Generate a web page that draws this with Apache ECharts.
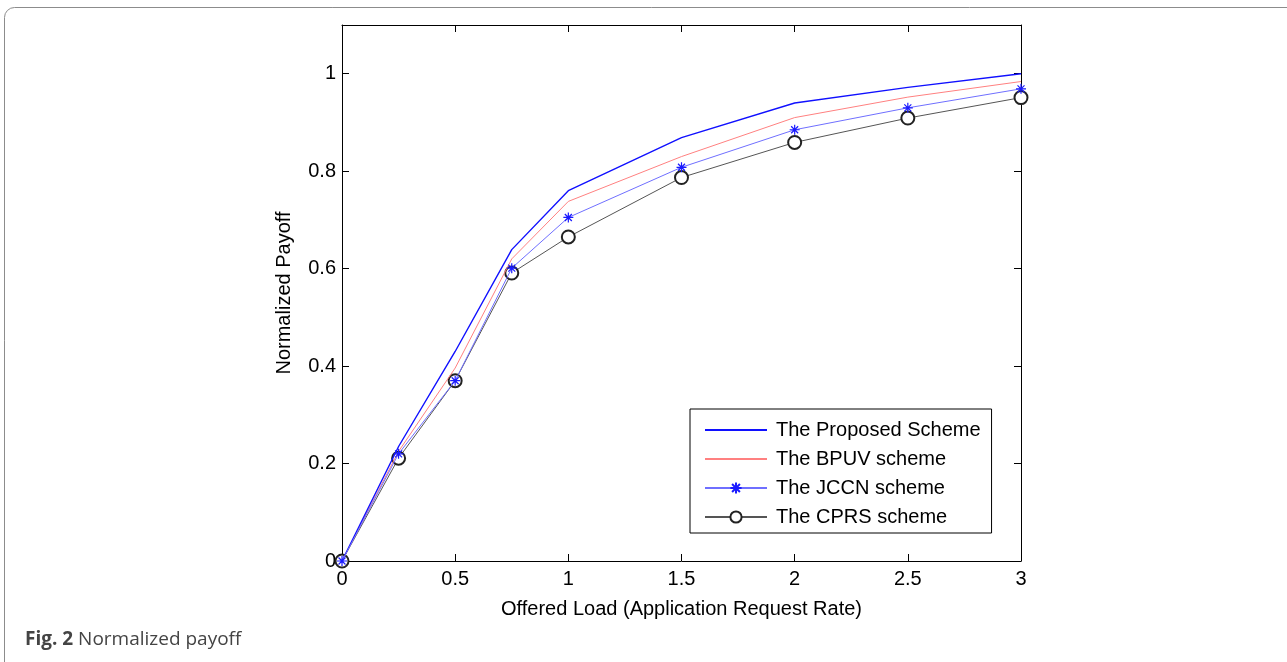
<!DOCTYPE html>
<html>
<head>
<meta charset="utf-8">
<title>Normalized payoff</title>
<script src="https://cdn.jsdelivr.net/npm/echarts@6/dist/echarts.min.js"></script>
<style>
body{margin:0;background:#fff;}
#chart{width:1287px;height:662px;}
</style>
</head>
<body>
<div id="chart"></div>
<script>
// offered load (x axis)
var loads = [0, 0.25, 0.5, 0.75, 1, 1.5, 2, 2.5, 3];
// normalized payoff per scheme
var proposed = [0, 0.235, 0.43, 0.639, 0.760, 0.869, 0.940, 0.972, 1.0];
var bpuv     = [0, 0.225, 0.396, 0.620, 0.738, 0.830, 0.910, 0.952, 0.984];
var jccn     = [0, 0.220, 0.370, 0.601, 0.705, 0.808, 0.885, 0.930, 0.969];
var cprs     = [0, 0.211, 0.370, 0.591, 0.665, 0.787, 0.859, 0.909, 0.951];
var names = ['The Proposed Scheme', 'The BPUV scheme', 'The JCCN scheme', 'The CPRS scheme'];

function pairs(ys){
	var out = [];
	for (var i = 0; i < loads.length; i++) out.push([loads[i], ys[i]]);
	return out;
}

var star = 'path://M0,-1L0,1M-1,0L1,0M-0.7,-0.7L0.7,0.7M-0.7,0.7L0.7,-0.7';
var font = 'Liberation Sans';
var tick = {inside: true, length: 7, lineStyle: {color: '#000', width: 1}};
var line = {show: true, onZero: false, lineStyle: {color: '#000', width: 1}};

var chart = echarts.init(document.getElementById('chart'));
var option = {
	animation: false,
	backgroundColor: '#fff',
	textStyle: {fontFamily: font},
	grid: {left: 342, right: 266, top: 25, bottom: 101},
	graphic: [{
		type: 'rect',
		shape: {x: 4.5, y: 7.5, width: 1320, height: 670, r: 10},
		style: {fill: 'none', stroke: '#8c8c8c', lineWidth: 1},
		silent: true
	}, {
		type: 'text',
		left: 25, top: 630,
		style: {
			text: '{b|Fig. 2} Normalized payoff',
			fill: '#444',
			font: '19px "Open Sans"',
			rich: {b: {fontWeight: 'bold', fontSize: 19, fontFamily: 'Open Sans', fill: '#444'}}
		}
	}],
	xAxis: [{
		type: 'value', min: 0, max: 3, interval: 0.5,
		name: 'Offered Load (Application Request Rate)',
		nameLocation: 'middle', nameGap: 38,
		nameTextStyle: {fontSize: 20, color: '#000', fontFamily: font},
		axisLine: line,
		axisTick: tick,
		axisLabel: {fontSize: 20, color: '#000', margin: 8, fontFamily: font},
		splitLine: {show: false}
	}, {
		type: 'value', position: 'top', min: 0, max: 3, interval: 0.5,
		axisLine: line,
		axisTick: tick,
		axisLabel: {show: false},
		splitLine: {show: false}
	}],
	yAxis: [{
		type: 'value', min: 0, max: 1.1, interval: 0.2,
		name: 'Normalized Payoff',
		nameLocation: 'middle', nameGap: 48,
		nameTextStyle: {fontSize: 20, color: '#000', fontFamily: font},
		axisLine: line,
		axisTick: tick,
		axisLabel: {
			fontSize: 20, color: '#000', margin: 6, fontFamily: font,
			formatter: function(v){ return v > 1.05 ? '' : String(Math.round(v * 10) / 10); }
		},
		splitLine: {show: false}
	}, {
		type: 'value', position: 'right', min: 0, max: 1.1, interval: 0.2,
		axisLine: line,
		axisTick: tick,
		axisLabel: {show: false},
		splitLine: {show: false}
	}],
	legend: {
		orient: 'vertical',
		left: 690, top: 409,
		padding: [11, 11, 6, 14],
		borderColor: '#000', borderWidth: 1,
		backgroundColor: '#fff',
		itemWidth: 62, itemHeight: 14, itemGap: 9,
		textStyle: {fontSize: 20, color: '#000', fontFamily: font, padding: [0, 0, 0, 4]},
		data: [
			{name: names[0], itemStyle: {opacity: 0}},
			{name: names[1], itemStyle: {opacity: 0}},
			names[2],
			names[3]
		]
	},
	series: [{
		name: names[0], type: 'line', data: pairs(proposed),
		symbol: 'none', z: 4,
		lineStyle: {color: '#1010ff', width: 1.4},
		itemStyle: {color: '#1010ff'}
	}, {
		name: names[1], type: 'line', data: pairs(bpuv),
		symbol: 'none', z: 3,
		lineStyle: {color: '#ff8080', width: 1},
		itemStyle: {color: '#ff8080'}
	}, {
		name: names[2], type: 'line', data: pairs(jccn),
		symbol: star, symbolSize: 10, showAllSymbol: true, z: 5,
		lineStyle: {color: '#6f6fff', width: 1},
		itemStyle: {color: '#1a1aff', borderColor: '#1a1aff', borderWidth: 1.2}
	}, {
		name: names[3], type: 'line', data: pairs(cprs),
		symbol: 'emptyCircle', symbolSize: 13, showAllSymbol: true, z: 2,
		lineStyle: {color: '#555', width: 1},
		itemStyle: {color: '#222', borderWidth: 0.8}
	}]
};
chart.setOption(option);
</script>
</body>
</html>
